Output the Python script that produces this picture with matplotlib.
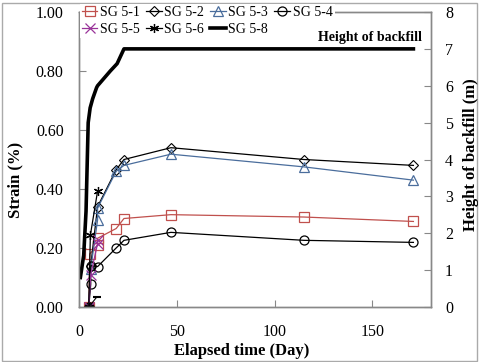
import matplotlib
matplotlib.use("Agg")
import matplotlib.pyplot as plt
from matplotlib.lines import Line2D
from matplotlib.patches import Rectangle

plt.rcParams['font.family'] = ['Liberation Serif', 'DejaVu Serif']

# ---- data ----
d_51 = [5, 5.5, 9.5, 9.5, 19, 23, 47, 115, 171]
v_51 = [0, 0.18, 0.21, 0.233, 0.266, 0.30, 0.313, 0.305, 0.29]
d_52 = [5, 6, 9.5, 19, 23, 47, 115, 171]
v_52 = [0, 0.14, 0.34, 0.465, 0.50, 0.54, 0.50, 0.48]
d_53 = [5, 6, 9.5, 9.5, 19, 23, 47, 115, 171]
v_53 = [0, 0.13, 0.295, 0.335, 0.46, 0.48, 0.518, 0.475, 0.43]
d_54 = [5, 6, 6, 9.5, 19, 23, 47, 115, 171]
v_54 = [0, 0.077, 0.14, 0.137, 0.20, 0.226, 0.253, 0.226, 0.219]
d_55 = [5, 6, 9.5, 9.5]
v_55 = [0, 0.11, 0.215, 0.228]
d_56 = [5, 5.8, 9.5]
v_56 = [0, 0.243, 0.393]
d_57 = [5, 9]
v_57 = [0, 0.033]
d_bf = [0.7, 2.4, 3.6, 4.7, 5.7, 7.0, 9.0, 9.5, 16, 19.5, 23, 47, 115, 171]
h_bf = [0.8, 1.4, 2.6, 5.0, 5.4, 5.65, 5.95, 6.0, 6.4, 6.6, 7.0, 7.0, 7.0, 7.0]

x_ticks = [0, 50, 100, 150]
y_ticks = [0.0, 0.2, 0.4, 0.6, 0.8, 1.0]
y2_ticks = [0, 1, 2, 3, 4, 5, 6, 7, 8]

W, H = 479, 362
fig = plt.figure(figsize=(W / 100, H / 100), dpi=100)
ax = fig.add_axes([79 / W, 1 - 307 / H, (431 - 79) / W, (307 - 12) / H])
ax2 = ax.twinx()

red = '#C0504D'
blue = '#4A6D9C'
purple = '#993399'
mk = dict(markersize=6.5, markerfacecolor='none', markeredgewidth=0.9, linewidth=0.9)

h51, = ax.plot(d_51, v_51, color=red, marker='s', markeredgecolor=red, label='SG 5-1', **mk)
h52, = ax.plot(d_52, v_52, color='black', marker='D', markeredgecolor='black', label='SG 5-2',
               markersize=5.5, markerfacecolor='none', markeredgewidth=0.8, linewidth=0.9)
h53, = ax.plot(d_53, v_53, color=blue, marker='^', markeredgecolor=blue, label='SG 5-3', **mk)
h54, = ax.plot(d_54, v_54, color='black', marker='o', markeredgecolor='black', label='SG 5-4', **mk)
h55, = ax.plot(d_55, v_55, color=purple, marker='x', markeredgecolor=purple, label='SG 5-5', **mk)
h56, = ax.plot(d_56, v_56, color='black', marker=(6, 2, 0), markeredgecolor='black', label='SG 5-6', **mk)
ax.plot(d_57, v_57, color='black', marker='_', markersize=6, markeredgewidth=1.5, linewidth=0.8)
h58, = ax2.plot(d_bf, h_bf, color='black', linewidth=2.6, label='SG 5-8')

ax.set_xlim(0, 180)
ax.set_ylim(0, 1.0)
ax2.set_ylim(0, 8)
ax.set_xticks(x_ticks)
ax.set_xticklabels([str(t) for t in x_ticks])
ax.set_yticks(y_ticks)
ax.set_yticklabels(['%.2f' % t for t in y_ticks])
ax2.set_yticks(y2_ticks)
ax2.set_yticklabels([str(t) for t in y2_ticks])

gray = '#888888'
for a in (ax, ax2):
    for s in a.spines.values():
        s.set_color(gray)
        s.set_linewidth(1.0)
ax.tick_params(axis='y', direction='in', length=5, color=gray, labelsize=11.5, pad=11)
ax.tick_params(axis='x', direction='in', length=5, color=gray, labelsize=11.5, pad=12)
ax2.tick_params(axis='y', direction='in', length=5, color=gray, labelsize=11.5, pad=10)

fig.text(422 / W, 1 - 37 / H, 'Height of backfill', ha='right', va='center',
         fontsize=10, fontweight='bold', zorder=10)

fig.text(15 / W, 1 - 180 / H, 'Strain (%)', rotation=90, ha='center', va='center',
         fontsize=12, fontweight='bold')
fig.text(242 / W, 1 - 351 / H, 'Elapsed time (Day)', ha='center', va='center',
         fontsize=12, fontweight='bold')
fig.text(471 / W, 1 - 155 / H, 'Height of backfill (m)', rotation=90, ha='center', va='center',
         fontsize=12, fontweight='bold')

handles = [h51, h55, h52, h56, h53, h58, h54]
leg = fig.legend(handles=handles, labels=[h.get_label() for h in handles], ncol=4,
                 loc='upper left', bbox_to_anchor=(80 / W, 1 - 4 / H), frameon=True,
                 fontsize=10, handlelength=1.1, handletextpad=0.2, columnspacing=0.45,
                 labelspacing=0.25, borderpad=0.15, borderaxespad=0)
leg.get_frame().set_edgecolor('none')
leg.get_frame().set_facecolor('white')
leg.get_frame().set_alpha(1)
leg.get_frame().set_boxstyle('square', pad=0)

fig.patches.append(Rectangle((2 / W, 1 - 361 / H), 475 / W, 358 / H, transform=fig.transFigure,
                             fill=False, edgecolor='#AAAAAA', linewidth=1.0))

fig.savefig('out.png', dpi=100)
